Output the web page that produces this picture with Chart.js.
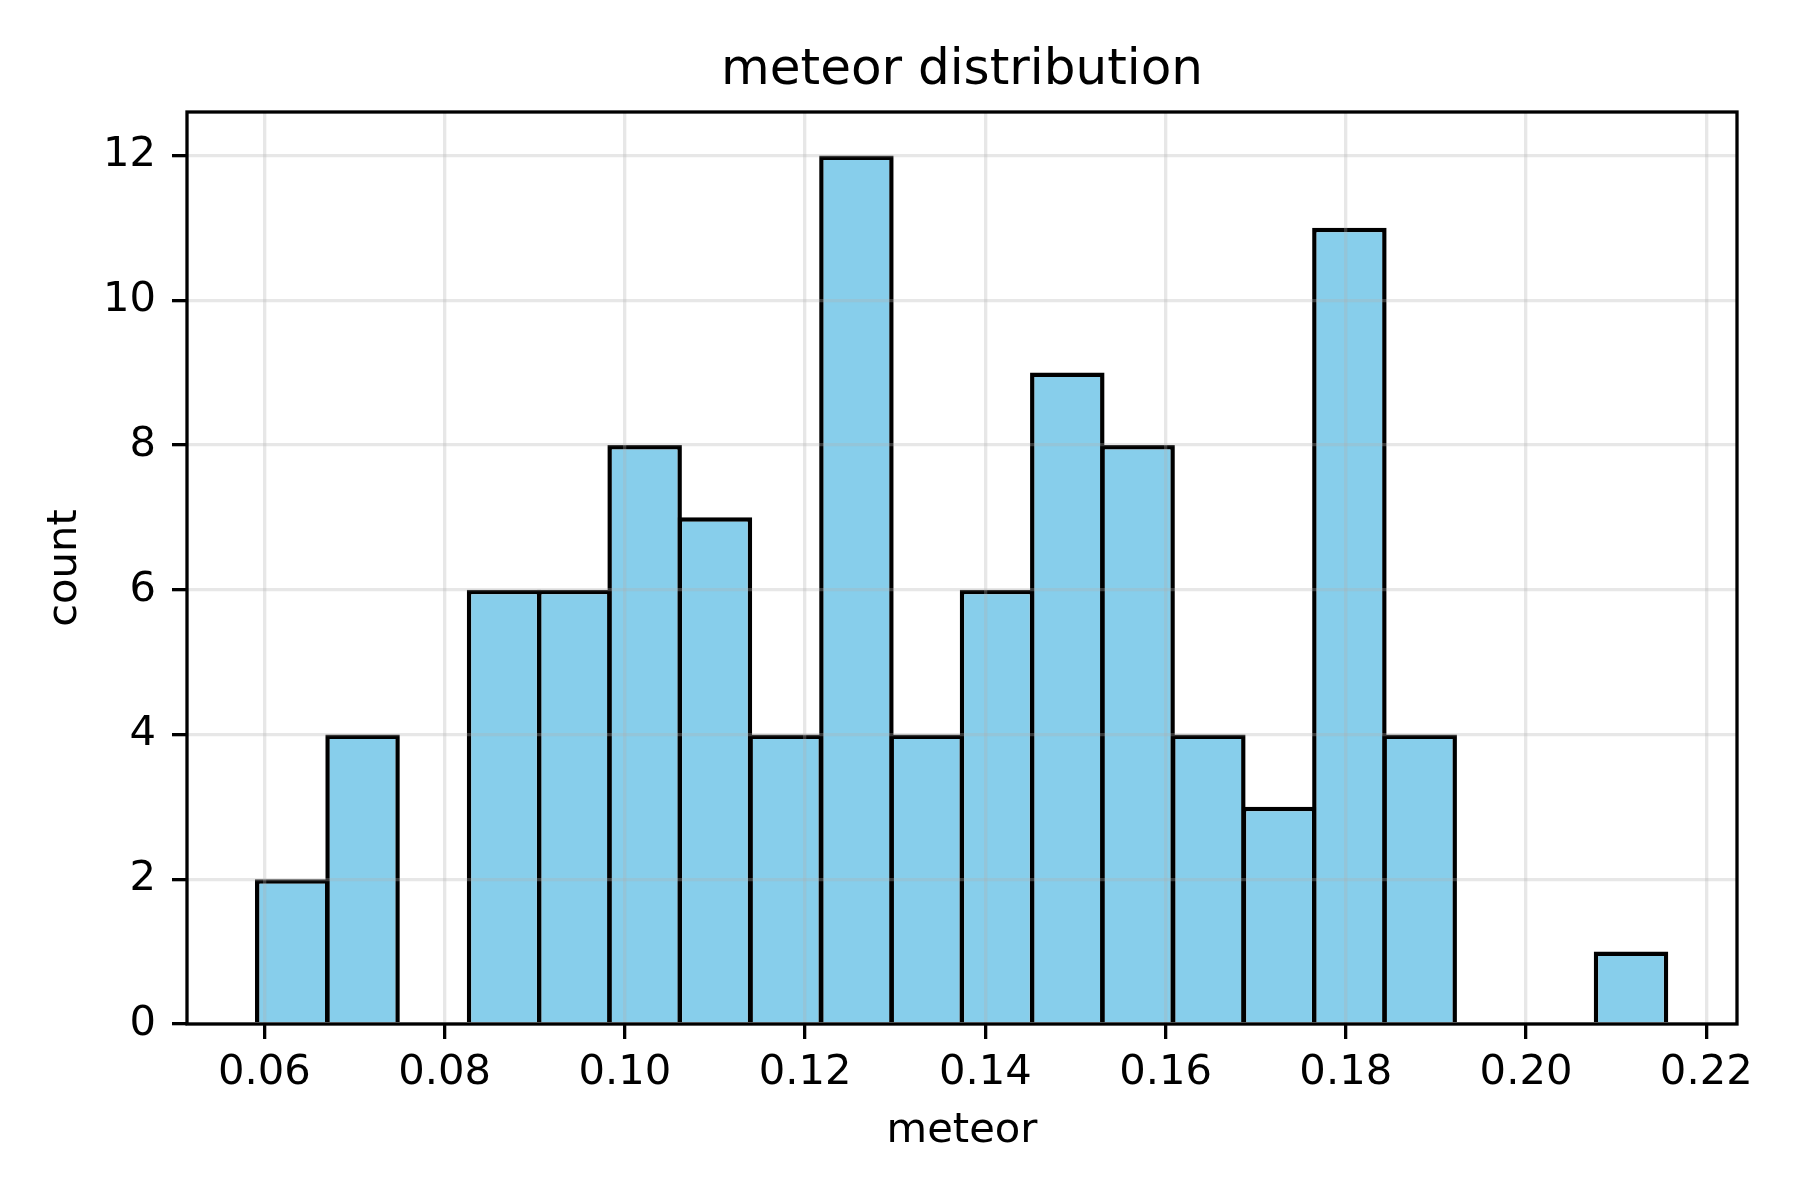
<!DOCTYPE html>
<html>
<head>
<meta charset="utf-8">
<script src="https://cdn.jsdelivr.net/npm/chart.js@4/dist/chart.umd.min.js"></script>
<style>
  html, body { margin: 0; padding: 0; background: #fff; }
  #wrap { width: 1800px; height: 1200px; }
</style>
</head>
<body>
<div id="wrap"><canvas id="myChart" width="1800" height="1200"></canvas></div>
<script>
Chart.defaults.font.family = "'DejaVu Sans', sans-serif";
Chart.defaults.color = "#000";

// histogram bins (edges) and counts
const binEdges = [0.0592, 0.0670, 0.0748, 0.0827, 0.0905, 0.0983, 0.1061, 0.1139, 0.1218, 0.1296,
	0.1374, 0.1452, 0.1530, 0.1608, 0.1687, 0.1765, 0.1843, 0.1921, 0.1999, 0.2077, 0.2156];
const counts = [2, 4, 0, 6, 6, 8, 7, 4, 12, 4, 6, 9, 8, 4, 3, 11, 4, 0, 0, 1];
const xTicks = [0.06, 0.08, 0.10, 0.12, 0.14, 0.16, 0.18, 0.20, 0.22];
const yTicks = [0, 2, 4, 6, 8, 10, 12];

const points = counts.map((c, i) => ({ x: (binEdges[i] + binEdges[i + 1]) / 2, y: c }));

const gridColor = "rgba(176,176,176,0.3)";

// matplotlib-style box around the axes
const frame = {
	id: "frame",
	afterDraw(chart) {
		const { ctx, chartArea: a } = chart;
		ctx.save();
		ctx.strokeStyle = "#000";
		ctx.lineWidth = 3.3;
		ctx.strokeRect(a.left, a.top, a.right - a.left, a.bottom - a.top);
		ctx.restore();
	},
};

const config = {
	type: "bar",
	data: {
		datasets: [
			{
				data: points,
				backgroundColor: "#87ceeb",
				borderColor: "#000",
				borderWidth: 4.5,
				barPercentage: 1.06,
				categoryPercentage: 1,
				grouped: false,
			},
		],
	},
	options: {
		responsive: false,
		animation: false,
		layout: { padding: { left: 0, right: 63, top: 0, bottom: 0 } },
		plugins: {
			legend: { display: false },
			tooltip: { enabled: false },
			title: {
				display: true,
				fullSize: false,
				text: "meteor distribution",
				color: "#000",
				font: { size: 50, weight: "normal" },
				padding: { top: 41, bottom: 11 },
			},
		},
		scales: {
			x: {
				type: "linear",
				min: 0.05142,
				max: 0.22341,
				offset: false,
				afterBuildTicks: (s) => { s.ticks = xTicks.map((v) => ({ value: v })); },
				afterFit: (s) => { s.height = 176; },
				ticks: {
					font: { size: 41.7 },
					padding: 9,
					maxRotation: 0,
					callback: (v) => v.toFixed(2),
				},
				grid: {
					offset: false,
					color: gridColor,
					lineWidth: 3.3,
					tickColor: "#000",
					tickWidth: 3.3,
					tickLength: 15,
					z: 1,
				},
				border: { display: false },
				title: {
					display: true,
					text: "meteor",
					font: { size: 41.7 },
					padding: { top: 0, bottom: 44 },
				},
			},
			y: {
				min: 0,
				max: 12.6,
				afterBuildTicks: (s) => { s.ticks = yTicks.map((v) => ({ value: v })); },
				afterFit: (s) => { s.width = 187; },
				ticks: {
					font: { size: 41.7 },
					padding: 16,
				},
				grid: {
					color: gridColor,
					lineWidth: 3.3,
					tickColor: "#000",
					tickWidth: 3.3,
					tickLength: 15,
					z: 1,
				},
				border: { display: false },
				title: {
					display: true,
					text: "count",
					font: { size: 41.7 },
					padding: { top: 40, bottom: 0 },
				},
			},
		},
	},
	plugins: [frame],
};

const ctx = document.getElementById("myChart").getContext("2d");
new Chart(ctx, config);
</script>
</body>
</html>
